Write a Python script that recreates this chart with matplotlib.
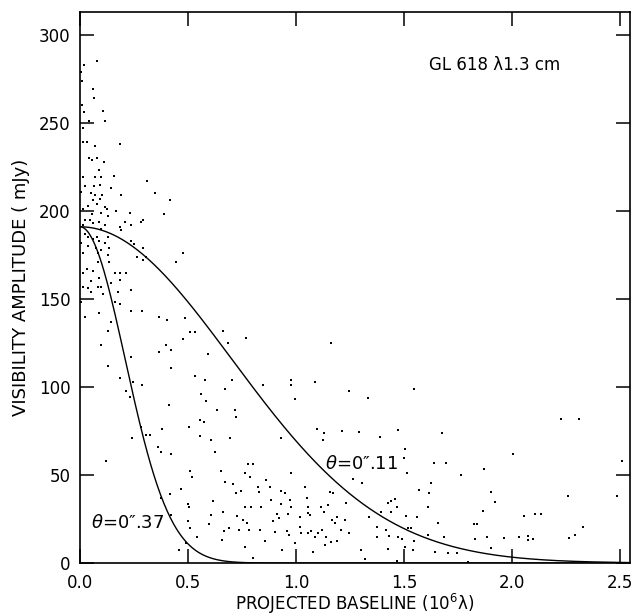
import numpy as np
import matplotlib
matplotlib.use("Agg")
import matplotlib.pyplot as plt

# visibility samples: projected baseline (10^6 lambda), amplitude (mJy)
base_inner = [0.019, 0.080, 0.003, 0.009, 0.059, 0.065, 0.009, 0.019, 0.106, 0.043,
              0.114, 0.014, 0.012, 0.031, 0.068, 0.184, 0.040, 0.077, 0.056, 0.111,
              0.086, 0.099, 0.157, 0.068, 0.012, 0.025, 0.065, 0.093, 0.145, 0.312,
              0.006, 0.052, 0.068, 0.102, 0.188, 0.346, 0.415, 0.059, 0.077, 0.093,
              0.114, 0.037, 0.012, 0.126, 0.167, 0.230, 0.389, 0.056, 0.099, 0.130,
              0.022, 0.046, 0.062, 0.086, 0.207, 0.292, 0.284, 0.012, 0.114, 0.185,
              0.238, 0.096, 0.191, 0.022, 0.037, 0.077, 0.130, 0.059, 0.086, 0.114,
              0.238, 0.250, 0.006, 0.037, 0.076, 0.099, 0.133, 0.292, 0.015, 0.083,
              0.130, 0.265, 0.307, 0.477, 0.292, 0.083, 0.133, 0.446, 0.034, 0.015,
              0.062, 0.164, 0.185, 0.214, 0.086, 0.185, 0.052, 0.099, 0.037, 0.083,
              0.145, 0.238, 0.052, 0.105, 0.176, 0.012]
amp_inner = [283, 285, 279, 274, 269, 264, 260, 256, 257, 251,
             251, 247, 239, 239, 237, 238, 230, 230, 229, 228,
             223, 219, 220, 219, 219, 214, 214, 215, 213, 217,
             211, 210, 209, 209, 209, 210, 206, 206, 204, 207,
             202, 203, 201, 201, 200, 199, 198, 198, 199, 197,
             195, 195, 193, 194, 194, 195, 194, 192, 192, 191,
             192, 190, 189, 187, 185, 185, 185, 184, 183, 182,
             183, 181, 182, 180, 179, 178, 179, 179, 176, 176,
             175, 174, 174, 176, 172, 171, 171, 171, 167, 165,
             166, 165, 165, 165, 162, 161, 160, 157, 156, 157,
             159, 155, 154, 153, 154, 157]

base_mid = [0.006, 0.086, 0.160, 0.184, 0.238, 0.287, 0.025, 0.145, 0.364, 0.404,
            0.488, 0.130, 0.508, 0.531, 0.478, 0.099, 0.398, 0.423, 0.367, 0.593,
            0.238, 0.130, 0.420, 0.184, 0.531, 0.580, 0.245, 0.287, 0.214, 0.562,
            0.230, 0.585, 0.413, 0.636, 0.554, 0.574, 0.503, 0.284, 0.380, 0.306,
            0.324, 0.554, 0.241, 0.605, 0.361, 0.376, 0.420, 0.624, 0.120, 0.509,
            0.519, 0.466, 0.417, 0.374, 0.616, 0.500, 0.503, 0.608, 0.423, 0.596,
            0.500, 0.508, 0.543, 0.491, 0.457]
amp_mid = [148, 142, 148, 147, 143, 143, 140, 137, 140, 138,
           139, 132, 131, 131, 127, 124, 124, 121, 120, 119,
           117, 112, 111, 105, 106, 104, 103, 101, 98, 96,
           94.5, 92, 90, 87, 81, 80, 77, 77, 76, 73,
           73, 72, 71, 70, 66, 63, 62, 63, 58, 52,
           49, 42, 39, 37, 35, 33.5, 31.6, 27, 27, 22,
           24, 20, 14.6, 11.5, 7.4]

base_outer = [0.662, 0.685, 0.769, 1.164, 0.704, 0.670, 0.847, 0.978, 0.975, 1.086,
              0.994, 1.248, 0.716, 0.722, 0.694, 0.929, 1.096, 1.130, 1.213, 1.127,
              0.651, 0.778, 0.799, 0.762, 0.787, 0.975, 0.861, 0.670, 0.707, 0.722,
              0.744, 0.824, 0.830, 0.880, 0.929, 0.948, 1.043, 1.157, 1.170, 1.262,
              0.883, 0.972, 1.052, 0.660, 0.765, 0.793, 0.836, 0.932, 0.978, 1.056,
              1.117, 1.148, 1.233, 0.728, 0.753, 0.775, 0.738, 0.667, 0.688, 0.781,
              0.833, 0.895, 0.923, 0.911, 0.963, 1.019, 1.056, 1.065, 1.130, 1.167,
              1.191, 1.179, 1.225, 0.904, 0.957, 0.966, 1.019, 1.056, 1.071, 1.089,
              1.102, 1.123, 1.140, 1.164, 1.136, 1.191, 1.210, 1.248, 0.657, 0.765,
              0.855, 0.935, 0.997, 1.025, 1.080, 0.802]
amp_outer = [132, 125, 128, 125, 104, 99, 101, 104, 101, 103,
             93, 98, 87, 83, 71, 71, 76, 74, 75, 70,
             52, 56, 56, 51, 49, 51, 47, 46, 45, 40,
             41, 43, 40.5, 43, 41, 40, 43, 40.5, 40, 48,
             36, 36, 37, 29, 32, 32, 32, 33.5, 32, 32,
             31.6, 33, 34, 26.7, 24.4, 22.9, 19, 18, 20, 18.8,
             18.8, 24, 25.4, 28, 28, 26.3, 28.6, 27, 29, 24.4,
             26.3, 22.9, 24.4, 17.8, 18.4, 15.9, 20.6, 16.9, 18.4, 14.6,
             16.9, 18.8, 14.6, 12.1, 10.2, 12.7, 18.8, 16.9, 13, 8.9,
             12.7, 7.4, 11.5, 16.9, 6.3, 2.7]

base_far = [1.546, 1.333, 1.293, 1.389, 1.472, 1.676, 1.503, 1.500, 1.639, 1.696,
            1.515, 1.765, 1.873, 1.306, 1.624, 1.572, 1.614, 1.904, 1.457, 1.441,
            1.426, 1.466, 1.611, 1.923, 1.866, 1.392, 1.441, 1.511, 1.562, 1.339,
            1.824, 1.838, 1.657, 1.519, 1.534, 1.375, 1.418, 1.611, 1.688, 1.377,
            1.429, 1.472, 1.491, 1.549, 1.827, 1.886, 1.904, 1.302, 1.426, 1.506,
            1.542, 1.645, 1.704, 1.744, 1.321, 1.469, 1.796,
            2.228, 2.312, 2.003, 2.509, 2.259, 2.485, 2.056, 2.105, 2.133, 2.329,
            2.293, 2.265, 1.963, 2.031, 2.074, 2.077, 2.097]
amp_far = [98.7, 93.6, 74.6, 71.8, 75.6, 73.7, 64.9, 59.7, 57, 57,
           51, 50, 53.2, 45.6, 45.3, 41.5, 40, 40.5, 36.2, 35,
           33.9, 31.6, 32, 34.8, 29.7, 29, 29, 26.7, 26, 26,
           22, 22.2, 22.9, 19.7, 20, 20.3, 18.8, 15.7, 14.6, 14.6,
           15.3, 14.6, 13.4, 12.7, 13.8, 14.9, 8.3, 7.4, 7.8, 9.3,
           7.4, 6.4, 5.9, 5.9, 2.1, 1.3, 0.4,
           81.6, 81.6, 61.8, 57.8, 38, 38.3, 26.7, 27.8, 27.8, 20.6,
           15.9, 14.4, 14.2, 15, 15.3, 13, 13.4]

# gaussian source models
peak_flux = 191.0
sizes = [0.11, 0.37]   # FWHM, arcsec

base = base_inner + base_mid + base_outer + base_far
amp = amp_inner + amp_mid + amp_outer + amp_far

fig = plt.figure(figsize=(6.4, 6.16), dpi=100)
ax = fig.add_axes([0.125, 0.086, 0.859, 0.8945])

ax.scatter(base, amp, s=1.4, c="black", marker="s", linewidths=0)

u = np.linspace(0, 2.55, 500)
for th in sizes:
    th_rad = th / 206265.0
    vis = peak_flux * np.exp(-(np.pi * th_rad * u * 1e6) ** 2 / (4 * np.log(2)))
    ax.plot(u, vis, color="black", lw=1.0)

ax.set_xlim(0, 2.546)
ax.set_ylim(0, 313)
ax.set_xticks([0.0, 0.5, 1.0, 1.5, 2.0, 2.5])
ax.set_xticklabels(["0.0", "0.5", "1.0", "1.5", "2.0", "2.5"])
ax.set_yticks(range(0, 301, 50))
ax.tick_params(direction="in", length=10, width=1.1, top=True, right=True,
               labelsize=12)
ax.tick_params(axis="x", pad=8)
ax.tick_params(axis="y", pad=7)
for sp in ax.spines.values():
    sp.set_linewidth(1.2)

ax.set_xlabel("PROJECTED BASELINE (10$^6$λ)", fontsize=12, labelpad=0)
ax.set_ylabel("VISIBILITY AMPLITUDE ( mJy)", fontsize=13, labelpad=6)

ax.text(1.92, 283, "GL 618 λ1.3 cm", fontsize=12, ha="center", va="center")
ax.text(1.134, 56, r"$\theta$=0″.11", fontsize=13, ha="left", va="center")
ax.text(0.05, 23, r"$\theta$=0″.37", fontsize=13, ha="left", va="center")

fig.savefig("out.png", dpi=100)
